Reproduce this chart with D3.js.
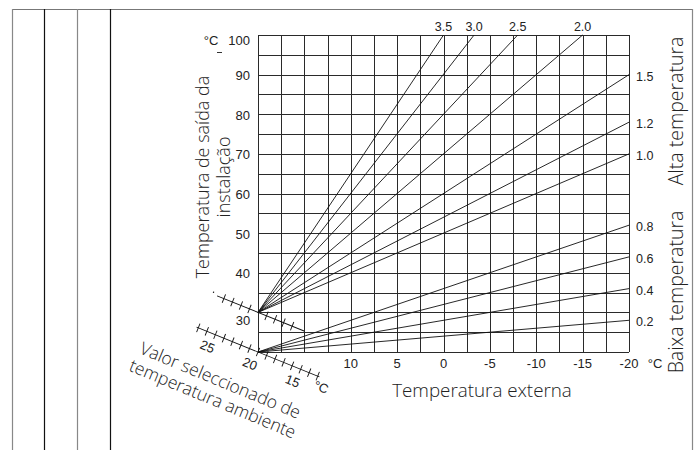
<!DOCTYPE html>
<html><head><meta charset="utf-8">
<script src="https://cdn.jsdelivr.net/npm/d3@7"></script>
<style>body{margin:0;background:#fff}svg{display:block}</style>
</head><body>
<script>
// ---- data ----
const outsideTicks = [10, 5, 0, -5, -10, -15, -20];
const flowTicks = [100, 90, 80, 70, 60, 50, 40];
const curveLabels   = ["3.5", "3.0", "2.5", "2.0", "1.5", "1.2", "1.0", "0.8", "0.6", "0.4", "0.2"];
const curveStartOut = [20, 20, 20, 20, 20, 20, 20, 20, 20, 20, 20];
const curveStartFlow= [30, 30, 30, 30, 30, 30, 30, 20, 20, 20, 20];
const curveEndOut   = [0, -3.3, -8, -15, -20, -20, -20, -20, -20, -20, -20];
const curveEndFlow  = [100, 100, 100, 100, 90, 78, 70, 52, 44, 36, 28];
const roomTicksLower = [27, 26, 25, 24, 23, 22, 21, 20, 19, 18, 17, 16, 15, 14, 13];
const roomLabelsLower = [25, 20, 15];
const roomTicksUpper = [24, 23, 22, 21, 19, 18, 17, 16];

const W = 698, H = 450;
const svg = d3.select("body").append("svg").attr("width", W).attr("height", H);

const x = d3.scaleLinear().domain([20, -20]).range([258, 629]);
const y = d3.scaleLinear().domain([20, 100]).range([352, 35]);

const numFont = "'Liberation Sans', Arial, sans-serif";
const titleFont = "'Open Sans', 'Noto Sans', sans-serif";

// frame
svg.append("line").attr("x1", 12).attr("x2", 692).attr("y1", 9.5).attr("y2", 9.5).attr("stroke", "#777").attr("stroke-width", 1.2);
[[12, "#888"], [44, "#111"], [77, "#888"], [110, "#111"], [692, "#888"]].forEach(([xx, c]) => {
  svg.append("line").attr("x1", xx + 0.5).attr("x2", xx + 0.5).attr("y1", 9).attr("y2", H).attr("stroke", c).attr("stroke-width", 1.2);
});

// grid
const gx = d3.range(20, -20.01, -2.5);
const gy = d3.range(20, 100.01, 5);
const grid = svg.append("g").attr("stroke", "#2a2a2a").attr("stroke-width", 1);
grid.selectAll("line.v").data(gx).join("line").attr("class", "v")
  .attr("x1", d => Math.round(x(d)) + 0.5).attr("x2", d => Math.round(x(d)) + 0.5)
  .attr("y1", y(100)).attr("y2", y(20));
grid.selectAll("line.h").data(gy).join("line").attr("class", "h")
  .attr("y1", d => Math.round(y(d)) + 0.5).attr("y2", d => Math.round(y(d)) + 0.5)
  .attr("x1", x(20)).attr("x2", x(-20));

// curves
const curves = curveLabels.map((l, i) => ({ l, x0: curveStartOut[i], y0: curveStartFlow[i], x1: curveEndOut[i], y1: curveEndFlow[i] }));
svg.append("g").selectAll("line").data(curves).join("line")
  .attr("x1", d => x(d.x0)).attr("y1", d => y(d.y0))
  .attr("x2", d => x(d.x1)).attr("y2", d => y(d.y1))
  .attr("stroke", "#111").attr("stroke-width", 0.9);

// curve labels
const lab = svg.append("g").attr("font-family", numFont).attr("font-size", 12.5).attr("fill", "#222");
lab.selectAll("text.top").data(curves.filter(d => d.y1 >= 100)).join("text")
  .attr("x", d => x(d.x1)).attr("y", 27).attr("text-anchor", "middle").attr("dominant-baseline", "central").text(d => d.l);
lab.selectAll("text.right").data(curves.filter(d => d.y1 < 100)).join("text")
  .attr("x", 636).attr("y", d => y(d.y1) + 2).attr("dominant-baseline", "central").text(d => d.l);

// x tick labels
const tl = svg.append("g").attr("font-family", numFont).attr("font-size", 13).attr("fill", "#222");
tl.selectAll("text.x").data(outsideTicks).join("text")
  .attr("x", d => x(d)).attr("y", 363).attr("text-anchor", "middle").attr("dominant-baseline", "central").text(d => d);
tl.append("text").attr("x", 655).attr("y", 363).attr("text-anchor", "middle").attr("dominant-baseline", "central").text("°C");
// y tick labels
tl.selectAll("text.y").data(flowTicks).join("text")
  .attr("x", 250).attr("y", d => Math.max(y(d) + 1, 40)).attr("text-anchor", "end").attr("dominant-baseline", "central").text(d => d);
tl.append("text").attr("x", 211).attr("y", 40).attr("text-anchor", "middle").attr("dominant-baseline", "central").text("°C");
svg.append("line").attr("x1", 217).attr("x2", 222).attr("y1", 52.5).attr("y2", 52.5).attr("stroke", "#333").attr("stroke-width", 1);
tl.append("text").attr("x", 243).attr("y", 320).attr("text-anchor", "middle").attr("dominant-baseline", "central").text("30");

// diagonal room temperature scales
const ang = 22, step = 9.2;
const u = d3.scaleLinear().domain([20, 19]).range([0, step]);
function diag(px, py, ticks, lo, hi) {
  const g = svg.append("g").attr("transform", `translate(${px},${py}) rotate(${ang})`);
  g.append("line").attr("x1", u(lo)).attr("x2", u(hi)).attr("y1", 0).attr("y2", 0).attr("stroke", "#111").attr("stroke-width", 0.9);
  g.selectAll("line.t").data(ticks).join("line").attr("class", "t")
    .attr("x1", d => u(d)).attr("x2", d => u(d)).attr("y1", -4.5).attr("y2", 4.5)
    .attr("stroke", "#111").attr("stroke-width", 0.9);
  return g;
}
const gu = diag(x(20), y(30), roomTicksUpper, 24.8, 14.6);
gu.append("circle").attr("cx", u(25.3)).attr("cy", -2).attr("r", 0.7).attr("fill", "#111");
const gl = diag(x(20), y(20), roomTicksLower, 27.2, 12.8);
gl.selectAll("text").data(roomLabelsLower).join("text")
  .attr("x", d => u(d) - 3).attr("y", 14).attr("text-anchor", "middle").attr("dominant-baseline", "central")
  .attr("font-family", numFont).attr("font-size", 13).attr("fill", "#222").text(d => d);
gl.append("text").attr("x", u(12.2)).attr("y", 9).attr("text-anchor", "middle").attr("dominant-baseline", "central")
  .attr("font-family", numFont).attr("font-size", 13).attr("fill", "#222").text("°C");

// titles
const tt = svg.append("g").attr("font-family", titleFont).attr("font-weight", 300).attr("font-size", 18).attr("fill", "#222");
tt.append("text").attr("x", 482).attr("y", 390).attr("text-anchor", "middle").attr("dominant-baseline", "central").attr("font-size", 18.8).text("Temperatura externa");
const ty = tt.append("text").attr("transform", "translate(203,177) rotate(-90)").attr("text-anchor", "middle");
ty.append("tspan").attr("x", 0).attr("y", 6).text("Temperatura de saída da");
ty.append("tspan").attr("x", 0).attr("y", 27).text("instalação");
tt.append("text").attr("transform", "translate(675,111) rotate(-90)").attr("text-anchor", "middle").attr("dominant-baseline", "central").attr("font-size", 19.5).text("Alta temperatura");
tt.append("text").attr("transform", "translate(675,292) rotate(-90)").attr("text-anchor", "middle").attr("dominant-baseline", "central").attr("font-size", 19.5).text("Baixa temperatura");
const tr = tt.append("text").attr("transform", "translate(218,386) rotate(22.5)").attr("text-anchor", "middle").attr("font-size", 17.5);
tr.append("tspan").attr("x", 0).attr("y", 0).text("Valor seleccionado de");
tr.append("tspan").attr("x", 0).attr("y", 20).text("temperatura ambiente");
</script>
</body></html>
